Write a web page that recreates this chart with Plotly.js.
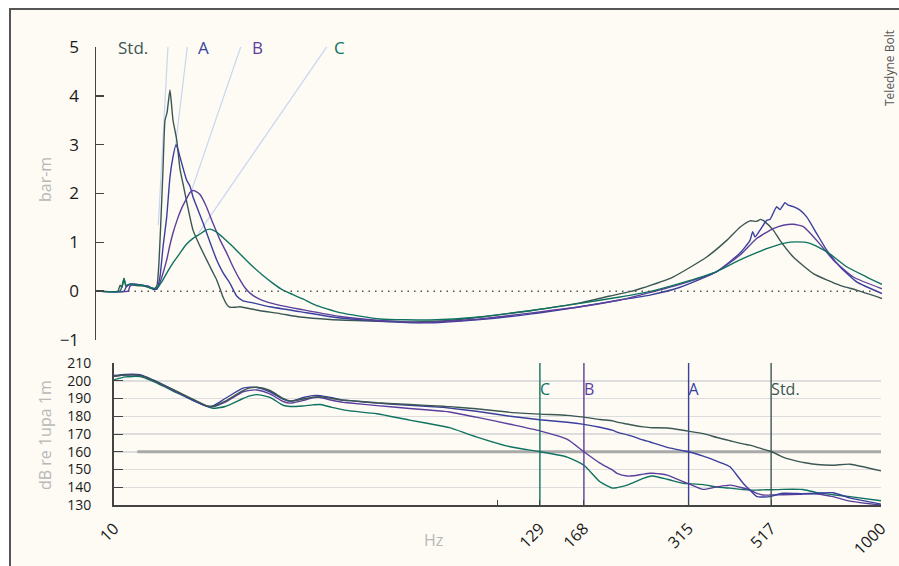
<!DOCTYPE html>
<html>
<head>
<meta charset="utf-8">
<script src="https://cdn.plot.ly/plotly-3.0.1.min.js"></script>
<style>html,body{margin:0;padding:0;background:#fff;}#chart{width:899px;height:566px;}</style>
</head>
<body>
<div id="chart"></div>
<script>
// ---------- Top panel: pressure signature (bar-m) vs time (ms, arbitrary offset) ----------
const stdT = [0,22,24,26,28,30,34,39,44,49,54,58,61,63,65,67,69,71,72.5,74,75.7,77,80.7,84,87,91,97,104,110.7,116,120.7,124,127,131,134,139,144,164,184,204,234,274,317,354,384,434,484,514,534,544,577,610.7,630.7,644,654,660.7,664.7,669,677.3,684,697.3,717.3,744,760.7,786];
const stdP = [0,0,0.12,0.08,0.26,0.1,0.14,0.12,0.11,0.1,0.07,0.03,0.12,0.6,1.5,2.5,3.5,3.65,3.9,4.12,3.78,3.5,3.1,2.5,2.2,1.8,1.25,0.92,0.64,0.42,0.23,0.05,-0.12,-0.28,-0.33,-0.33,-0.32,-0.4,-0.46,-0.53,-0.58,-0.61,-0.63,-0.6,-0.53,-0.4,-0.24,-0.1,-0.01,0.05,0.29,0.7,1.04,1.31,1.44,1.43,1.47,1.42,1.25,1.04,0.7,0.36,0.12,0.02,-0.15];

const aT = [0,28,30,32,36,44,52,57,61,64,67,70.7,74,77,80,82,84,90.7,94,97,100,107,114,120.7,127,134,140.7,147,157,174,204,244,284,327,384,434,484,524,554,584,620.7,644,654,656.7,659,664,670.7,674,680.7,684,689,692.3,697.3,704,710.7,720.7,730.7,744,760.7,786];
const aP = [0,0,0.08,0.12,0.15,0.13,0.1,0.05,0.04,0.3,0.9,1.52,2.34,2.75,3.0,2.9,2.75,2.27,2.15,1.93,1.77,1.4,1.0,0.64,0.38,0.16,-0.1,-0.2,-0.24,-0.32,-0.42,-0.55,-0.61,-0.65,-0.58,-0.47,-0.32,-0.18,-0.08,0.08,0.4,0.78,1.04,1.22,1.11,1.25,1.45,1.47,1.73,1.67,1.81,1.76,1.73,1.66,1.52,1.18,0.84,0.5,0.19,-0.05];

const bT = [0,32,34,38,44,52,58,62,66,70.7,74,77,81,85.7,90.7,94,97,101,104,110,117,124,130.7,137,144,149,154,162,170.7,184,204,244,284,327,384,434,484,524,544,584,620.7,644,660.7,677.3,687.3,697.3,707.3,720.7,737.3,757.3,786];
const bP = [0,0,0.1,0.14,0.13,0.1,0.05,0.08,0.3,0.64,0.95,1.19,1.45,1.7,1.9,2.02,2.06,2.03,1.98,1.75,1.39,1.05,0.78,0.5,0.23,0.07,-0.04,-0.15,-0.22,-0.29,-0.37,-0.52,-0.6,-0.64,-0.57,-0.45,-0.32,-0.18,-0.08,0.14,0.4,0.74,1.08,1.28,1.35,1.37,1.32,1.04,0.64,0.29,0.05];

const cT = [0,24,26,28,30,34,40,46,52,57,61,66,70.7,77,84,90,97,104,109,114,120,128,137,147,157,167,177,187,197,207,219,244,284,334,384,434,484,524,551,584,620.7,644,670.7,687.3,700.7,714,730.7,750.7,770.7,786];
const cP = [0,0,0.1,0.26,0.12,0.15,0.13,0.12,0.08,0.06,0.06,0.2,0.37,0.58,0.78,0.95,1.08,1.17,1.24,1.27,1.22,1.08,0.91,0.7,0.5,0.32,0.16,0.02,-0.07,-0.16,-0.28,-0.44,-0.57,-0.59,-0.53,-0.4,-0.25,-0.12,-0.02,0.16,0.4,0.64,0.87,0.98,1.01,0.98,0.81,0.5,0.29,0.14];

// ---------- Bottom panel: source level (dB re 1uPa 1m) vs frequency (Hz) ----------
const freq = [10,10.7,11.7,12.6,14.6,16.1,17.5,18.1,19.5,21.7,22.6,23.6,25.5,27.6,28.8,31,33,34.5,37,39.6,41.3,48.5,59,72,75,88,108,129,152,168,185,200,205,218,226,240,250,254,277,305,315,344,374,397,404,437,455,475,492,514,519,555,615,626,681,750,830,1000];
const stdDB = [202.5,203.2,203,200.5,194,189.5,185.8,185.6,188.5,194.5,196,196.3,194.5,190,188.6,189.6,190.8,191,190,189,188.8,187.6,186.6,185.6,185.4,184.2,182.2,181.2,180.5,179.5,178.2,177.4,176.7,175.6,174.9,174,173.6,173.5,173.4,172.1,171.6,170.2,168,166.6,166.2,164.4,163.7,162.5,161.5,160.3,160,157,154.3,154,152.8,152.4,153,149.2];
const aDB = [203,203.6,203.4,200.6,193.8,189,185.6,185.8,190,195.8,196.4,196.2,193.8,189.6,188.4,190.4,191.6,191.6,190.4,189,188.8,187.4,186.2,185,184.6,182.8,180,178,176.6,175.4,173.8,172,171.1,169.5,168.5,166.6,165.5,165,162.5,160.6,160,157.5,154.6,152.4,151.5,142.3,138.5,134.7,134.5,134.7,135,136.6,136.4,136.4,136.6,136.9,134,130.5];
const bDB = [202.5,203.2,203,200.4,193.6,189,185.6,185.4,188,193.8,194.6,194.8,192.6,188.3,187.4,188.8,190.4,190.6,189,187.8,187.5,186,184.4,182.8,182.4,179.5,175.5,171.8,167,160,153.6,149.5,147.8,146.3,146.5,147.4,147.9,147.9,146.8,143.1,142,138.8,140.3,141,141.2,139.6,138.4,136.5,135.6,135.6,135.6,135.8,136,136.1,136.2,134.7,132.2,130];
const cDB = [200.5,202.2,202.3,199.8,193.2,188.8,185.6,184.5,185.5,190,191.5,192.2,190.6,186.2,185.5,185.8,186.4,186.6,185,183.6,183,181.4,177.8,174.4,173.6,168.4,162.8,160,157,152.4,143.1,139.5,139.8,141.2,142.6,145,146.2,146.3,144.5,142.2,142,141.5,140.1,139.6,139.5,138.7,138.4,138.4,138.5,138.6,138.6,138.8,138.8,138.7,137,135.8,134.7,132.4];

const seriesNames = ['Std.','A','B','C'];
const seriesColors = ['#3b5753','#3a3f9e','#5b3f9c','#0f7261'];
const crossFreq = [517,315,168,129];      // frequency where each series falls to 160 dB
const thresholdDB = 160;
const thresholdStart = 11.5;
const xTickVals = [10,100,129,168,315,517,1000];
const xTickText = ['10','','129','168','315','517','1000'];
const topLabelT = [37,107,161,243];      // label positions above the peaks
const leaderFrom = [[72,5.02],[91.3,5.0],[145,5.02],[231.3,5.02]];
const leaderTo = [[62.3,1.35],[79.7,3.01],[95.7,2.07],[102.3,1.18]];

const FONT = 'Open Sans, Noto Sans, sans-serif';
const topT = [stdT,aT,bT,cT];
const topP = [stdP,aP,bP,cP];
const botDB = [stdDB,aDB,bDB,cDB];

const traces = [];
traces.push({x:[thresholdStart,1000], y:[thresholdDB,thresholdDB], xaxis:'x2', yaxis:'y2', mode:'lines',
  line:{color:'#a9a9a9', width:3}, hoverinfo:'skip'});
for (let i=0;i<4;i++){
  traces.push({x:topT[i], y:topP[i], xaxis:'x', yaxis:'y', mode:'lines', name:seriesNames[i],
    line:{color:seriesColors[i], width:1.4, shape:'spline', smoothing:0.5}});
}
for (let i=3;i>=0;i--){
  traces.push({x:freq, y:botDB[i], xaxis:'x2', yaxis:'y2', mode:'lines', name:seriesNames[i],
    line:{color:seriesColors[i], width:1.4, shape:'spline', smoothing:0.6}});
  traces.push({x:[crossFreq[i],crossFreq[i]], y:[130,210], xaxis:'x2', yaxis:'y2', mode:'lines',
    line:{color:seriesColors[i], width:1.4}, hoverinfo:'skip'});
  traces.push({x:[crossFreq[i]], y:[194.5], xaxis:'x2', yaxis:'y2', mode:'text', text:[seriesNames[i]],
    textposition:'middle right', textfont:{family:FONT, size:16, color:seriesColors[i]}, cliponaxis:false, hoverinfo:'skip'});
}

const shapes = [
  {type:'rect', xref:'paper', yref:'paper', x0:10/899, x1:1.3, y0:-0.3, y1:1-9/566,
   fillcolor:'#fdfbf4', line:{color:'#555', width:2}, layer:'below'},
  {type:'line', xref:'x', yref:'y', x0:32, x1:786, y0:0, y1:0, line:{color:'#555', width:1.5, dash:'1.5px,5px'}}
];
for (let i=0;i<4;i++){
  shapes.push({type:'line', xref:'x', yref:'y', x0:leaderFrom[i][0], y0:leaderFrom[i][1], x1:leaderTo[i][0], y1:leaderTo[i][1],
    line:{color:'#c9d6f0', width:1.2}, layer:'below'});
}

const annotations = [];
for (let i=0;i<4;i++){
  annotations.push({xref:'x', yref:'y', x:topLabelT[i], y:5, text:seriesNames[i], showarrow:false,
    font:{family:FONT, size:17, color:seriesColors[i]}, xanchor:'center', yanchor:'middle'});
}
const axTitle = {showarrow:false, xanchor:'center', yanchor:'middle', xref:'paper', yref:'paper'};
annotations.push(Object.assign({x:45/899, y:1-180/566, text:'bar-m', textangle:-90,
  font:{family:FONT, size:16, color:'#b8b8b8'}}, axTitle));
annotations.push(Object.assign({x:45/899, y:1-435/566, text:'dB re 1upa 1m', textangle:-90,
  font:{family:FONT, size:16, color:'#b8b8b8'}}, axTitle));
annotations.push(Object.assign({x:433/899, y:1-540/566, text:'Hz',
  font:{family:FONT, size:16, color:'#b8b8b8'}}, axTitle));
annotations.push(Object.assign({x:890/899, y:1-68/566, text:'Teledyne Bolt', textangle:-90,
  font:{family:FONT, size:12, color:'#555'}}, axTitle));

const layout = {
  width:899, height:566, margin:{l:0,r:0,t:0,b:0},
  paper_bgcolor:'#ffffff', plot_bgcolor:'rgba(0,0,0,0)', showlegend:false,
  font:{family:FONT, color:'#222'},
  xaxis:{domain:[96/899, 882/899], range:[0,786], visible:false, anchor:'y', fixedrange:true},
  yaxis:{domain:[1-340/566, 1-47/566], range:[-1,5], dtick:1, anchor:'x', ticks:'inside', ticklen:8, tickwidth:1.5,
    tickcolor:'#444', showline:true, linecolor:'#444', linewidth:1.5, showgrid:false, zeroline:false,
    tickfont:{family:FONT, size:17, color:'#1a1a1a'}, ticklabelstandoff:12},
  xaxis2:{domain:[114/899, 881/899], type:'log', range:[1,3], anchor:'y2', tickvals:xTickVals, ticktext:xTickText,
    tickangle:-45, ticks:'inside', ticklen:5, tickcolor:'#444', showline:true, linecolor:'#444', linewidth:2,
    showgrid:false, zeroline:false, tickfont:{family:FONT, size:16, color:'#1a1a1a'}, ticklabelstandoff:6},
  yaxis2:{domain:[1-505/566, 1-363/566], range:[130,210], anchor:'x2', tickvals:[130,140,150,160,170,180,190,200,210],
    ticks:'inside', ticklen:9, tickcolor:'#444', showline:true, linecolor:'#444', linewidth:2,
    showgrid:true, gridcolor:'#dddddd', gridwidth:1.5, zeroline:false,
    tickfont:{family:FONT, size:14, color:'#1a1a1a'}, ticklabelstandoff:18},
  shapes:shapes, annotations:annotations
};
Plotly.newPlot('chart', traces, layout, {staticPlot:true, displayModeBar:false});
</script>
</body>
</html>
